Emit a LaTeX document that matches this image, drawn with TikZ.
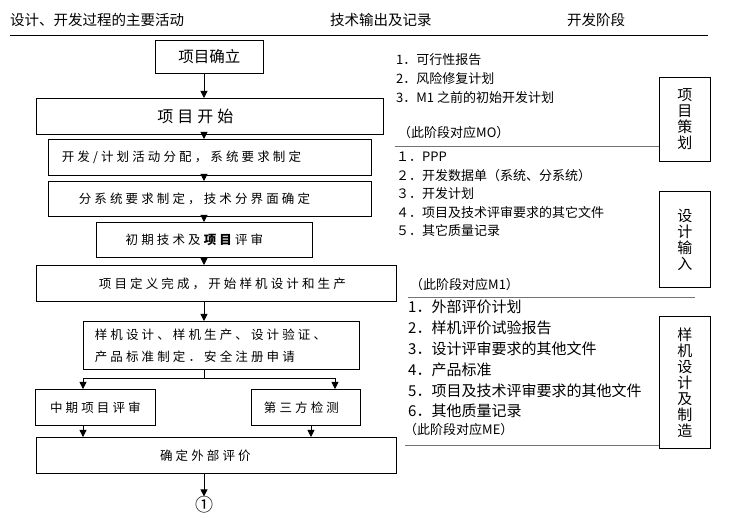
\documentclass[tikz,border=0pt]{standalone}
\usepackage{fontspec}
\setmainfont{Noto Sans CJK SC}
\newfontfamily\spacedcjk[LetterSpace=25]{Noto Sans CJK SC}
\usepackage{tikz}
\usetikzlibrary{arrows.meta, positioning}

\begin{document}
\begin{tikzpicture}[x=1pt, y=-1pt,
    actbox/.style={rectangle, draw=black, line width=0.8pt, minimum height=36pt, inner sep=0pt, font=\spacedcjk\fontsize{12.5}{15}\selectfont},
    phasebox/.style={rectangle, draw=black, line width=0.8pt, minimum width=51pt, inner sep=0pt, align=center, font=\fontsize{15}{16}\selectfont},
    headtext/.style={anchor=base west, inner sep=0pt, font=\fontsize{14.5}{16}\selectfont},
    outtext/.style={anchor=base west, inner sep=0pt, font=\fontsize{13}{15}\selectfont},
    outbig/.style={anchor=base west, inner sep=0pt, font=\fontsize{15}{17}\selectfont},
    divline/.style={draw=black!55, line width=0.8pt},
    arrow/.style={-{Triangle[width=7pt,length=7pt]}, line width=0.8pt}]

    \useasboundingbox (0,0) rectangle (745,518);

    % Header row
    \node[headtext] (hact) at (10,26) {设计、开发过程的主要活动};
    \node[headtext] (hout) at (330,26) {技术输出及记录};
    \node[headtext] (hphase) at (567,26) {开发阶段};
    \coordinate (hl) at (10,35);
    \coordinate (hr) at (708,35);
    \draw[line width=0.8pt] (hl) -- (hr);

    % Left column: main activities
    \node[actbox, anchor=north west, minimum width=108pt, minimum height=33pt, font=\fontsize{15.5}{17}\selectfont] (confirm) at (155,40) {项目确立};
    \node[actbox, anchor=north west, minimum width=347pt, font=\spacedcjk\fontsize{16}{18}\selectfont] (start) at (36,98) {项目开始\hspace*{29pt}};
    \node[actbox, anchor=north west, minimum width=323pt] (alloc) at (48,139) {开发/计划活动分配，系统要求制定\hspace*{57pt}};
    \node[actbox, anchor=north west, minimum width=323pt, minimum height=35pt] (subsys) at (48,181) {分系统要求制定，技术分界面确定\hspace*{31pt}};
    \node[actbox, anchor=north west, minimum width=216pt, minimum height=35pt] (review) at (96,222) {初期技术及\textbf{项目}评审\hspace*{20pt}};
    \node[actbox, anchor=north west, minimum width=360pt] (define) at (36,265) {\hspace*{12pt}项目定义完成，开始样机设计和生产};
    \node[actbox, anchor=north west, minimum width=276pt, minimum height=48pt, align=left, font=\spacedcjk\fontsize{12.5}{22}\selectfont] (proto) at (83,321) {样机设计、样机生产、设计验证、\hspace*{22pt}\\产品标准制定．安全注册申请};
    \node[actbox, anchor=north west, minimum width=120pt] (midrev) at (35,389) {中期项目评审};
    \node[actbox, anchor=north west, minimum width=109pt] (third) at (251,389) {第三方检测\hspace*{9pt}};
    \node[actbox, anchor=north west, minimum width=360pt] (external) at (36,437) {确定外部评价\hspace*{22pt}};
    \node[inner sep=0pt, font=\fontsize{18}{20}\selectfont] (circ) at (204,505) {①};

    % Connectors
    \coordinate (spine) at (204,0);
    \coordinate (fork) at (204,378);
    \coordinate (forkL) at (83,378);
    \coordinate (forkR) at (335,378);
    \coordinate (dropR) at (311,0);
    \draw[arrow] (confirm.south -| spine) -- (start.north -| spine);
    \draw[arrow] (start.south -| spine) -- (alloc.north -| spine);
    \draw[arrow] (alloc.south -| spine) -- (subsys.north -| spine);
    \draw[arrow] (subsys.south -| spine) -- (review.north -| spine);
    \draw[arrow] (review.south -| spine) -- (define.north -| spine);
    \draw[arrow] (define.south -| spine) -- (proto.north -| spine);
    \draw[line width=0.8pt] (proto.south -| spine) -- (fork);
    \draw[line width=0.8pt] (forkL) -- (forkR);
    \draw[arrow] (forkL) -- (forkL |- midrev.north);
    \draw[arrow] (forkR) -- (forkR |- third.north);
    \draw[arrow] (forkL |- midrev.south) -- (forkL |- external.north);
    \draw[arrow] (dropR |- third.south) -- (dropR |- external.north);
    \draw[arrow] (external.south -| spine) -- (circ.north);

    % Middle column: outputs per phase
    \node[outtext] (o1a) at (396,65) {1．可行性报告};
    \node[outtext] (o1b) at (396,84) {2．风险修复计划};
    \node[outtext] (o1c) at (396,103) {3．M1 之前的初始开发计划};
    \node[outtext] (m0) at (398,138) {（此阶段对应MO）};

    \node[outtext] (o2a) at (396,162) {１．PPP};
    \node[outtext] (o2b) at (396,180.5) {２．开发数据单（系统、分系统）};
    \node[outtext] (o2c) at (396,199) {３．开发计划};
    \node[outtext] (o2d) at (396,217.5) {４．项目及技术评审要求的其它文件};
    \node[outtext] (o2e) at (396,236) {５．其它质量记录};
    \node[outtext] (m1) at (410,290) {（此阶段对应M1）};

    \node[outbig] (o3a) at (408,313) {1．外部评价计划};
    \node[outbig] (o3b) at (408,334) {2．样机评价试验报告};
    \node[outbig] (o3c) at (408,355) {3．设计评审要求的其他文件};
    \node[outbig] (o3d) at (408,376) {4．产品标准};
    \node[outbig] (o3e) at (408,397) {5．项目及技术评审要求的其他文件};
    \node[outbig] (o3f) at (408,417) {6．其他质量记录};
    \node[outtext] (me) at (404,435) {（此阶段对应ME）};

    % Right column: phases
    \node[phasebox, anchor=north west, minimum height=84pt] (plan) at (659,77) {项\\目\\策\\划};
    \node[phasebox, anchor=north west, minimum height=96pt] (input) at (659,191) {设\\计\\输\\入};
    \node[phasebox, anchor=north west, minimum height=132pt] (build) at (659,316) {样\\机\\设\\计\\及\\制\\造};

    % Phase dividers
    \coordinate (m0l) at (395,146);
    \coordinate (m1l) at (408,297);
    \coordinate (m1r) at (695,297);
    \coordinate (mel) at (405,445);
    \draw[divline] (m0l) -- (m0l -| plan.west);
    \draw[divline] (m1l) -- (m1r);
    \draw[divline] (mel) -- (mel -| build.west);
\end{tikzpicture}
\end{document}
